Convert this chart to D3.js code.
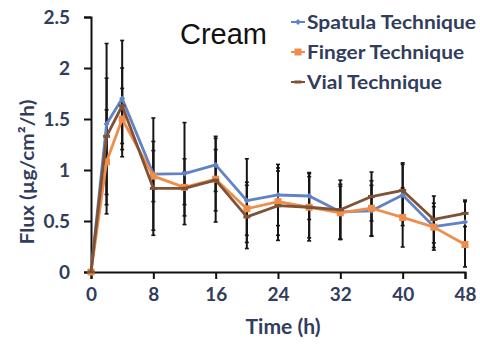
<!DOCTYPE html>
<html>
<head>
<meta charset="utf-8">
<script src="https://cdn.jsdelivr.net/npm/d3@7"></script>
<style>
  body { margin: 0; background: #fff; }
  svg { display: block; }
  text { font-family: Lato, "Open Sans", sans-serif; }
</style>
</head>
<body>
<div></div>
<script>
var width = 480;
var height = 345;

// time points (h)
var times = [0, 2, 4, 8, 12, 16, 20, 24, 28, 32, 36, 40, 44, 48];
var xTicks = [0, 8, 16, 24, 32, 40, 48];
var yTicks = [0, 0.5, 1, 1.5, 2, 2.5];

var seriesNames = ["Spatula Technique", "Finger Technique", "Vial Technique"];

var spatula    = [0, 1.45, 1.70, 0.96, 0.965, 1.05, 0.70, 0.755, 0.745, 0.59, 0.60, 0.755, 0.445, 0.49];
var spatulaErr = [0, 0.79, 0.57, 0.55, 0.50, 0.26, 0.41, 0.30, 0.23, 0.27, 0.25, 0.30, 0.23, 0.20];
var finger     = [0, 1.08, 1.50, 0.94, 0.83, 0.91, 0.62, 0.69, 0.635, 0.58, 0.625, 0.535, 0.44, 0.27];
var fingerErr  = [0, 0.51, 0.30, 0.25, 0.28, 0.42, 0.26, 0.33, 0.30, 0.26, 0.27, 0.29, 0.20, 0.22];
var vial       = [0, 1.33, 1.63, 0.82, 0.82, 0.90, 0.54, 0.65, 0.635, 0.61, 0.74, 0.80, 0.515, 0.575];
var vialErr    = [0, 0.57, 0.37, 0.46, 0.16, 0.30, 0.31, 0.34, 0.33, 0.29, 0.24, 0.27, 0.23, 0.13];

var colors = ["#6282c6", "#ee8e4c", "#7f5236"];
var markers = ["diamond", "square", "dash"];

var series = [spatula, finger, vial].map((vals, i) => ({
	name: seriesNames[i],
	color: colors[i],
	marker: markers[i],
	points: times.map((t, j) => ({
		t: t,
		v: vals[j],
		e: [spatulaErr, fingerErr, vialErr][i][j]
	}))
}));

var svg = d3.select("div")
	.append("svg")
	.attr("width", width)
	.attr("height", height);

var x = d3.scaleLinear().domain([0, 48]).range([91, 465]);
var y = d3.scaleLinear().domain([0, 2.5]).range([272, 17]);

var navy = "#313d5d";

// axes
var xAxis = svg.append("g")
	.attr("transform", "translate(0," + y(0) + ")")
	.call(d3.axisBottom(x).tickValues(xTicks).tickSize(7).tickPadding(9));

var yAxis = svg.append("g")
	.attr("transform", "translate(" + x(0) + ",0)")
	.call(d3.axisLeft(y).tickValues(yTicks).tickSize(7).tickPadding(14).tickFormat(d3.format("")));

[xAxis, yAxis].forEach(ax => {
	ax.select(".domain").attr("stroke", "#111").attr("stroke-width", 2);
	ax.selectAll(".tick line").attr("stroke", "#111").attr("stroke-width", 2);
	ax.selectAll(".tick text")
		.attr("fill", navy)
		.attr("font-size", 19)
		.attr("font-weight", 700)
		.attr("font-family", "Lato, sans-serif");
});
yAxis.selectAll(".tick text").attr("dy", "0.36em");

// error bars
var errG = svg.append("g");
series.forEach(s => {
	var pts = s.points.filter(p => p.e > 0);
	errG.selectAll(null)
		.data(pts)
		.enter()
		.append("line")
		.attr("x1", p => x(p.t))
		.attr("x2", p => x(p.t))
		.attr("y1", p => y(p.v + p.e))
		.attr("y2", p => y(Math.max(0, p.v - p.e)))
		.attr("stroke", "#151515")
		.attr("stroke-width", 2);
	["top", "bottom"].forEach(side => {
		errG.selectAll(null)
			.data(pts)
			.enter()
			.append("line")
			.attr("x1", p => x(p.t) - 2)
			.attr("x2", p => x(p.t) + 2)
			.attr("y1", p => y(side == "top" ? p.v + p.e : Math.max(0, p.v - p.e)))
			.attr("y2", p => y(side == "top" ? p.v + p.e : Math.max(0, p.v - p.e)))
			.attr("stroke", "#151515")
			.attr("stroke-width", 1.6);
	});
});

var line = d3.line().x(p => x(p.t)).y(p => y(p.v));

var drawMarker = (g, type, color) => {
	if (type == "diamond") {
		g.append("path").attr("d", "M0,-3L3,0L0,3L-3,0Z").attr("fill", color);
	} else if (type == "square") {
		g.append("rect").attr("x", -3.5).attr("y", -3.5).attr("width", 7).attr("height", 7).attr("fill", color);
	} else {
		g.append("rect").attr("x", -3.5).attr("y", -1.5).attr("width", 7).attr("height", 3).attr("fill", color);
	}
};

series.forEach(s => {
	svg.append("path")
		.datum(s.points)
		.attr("d", line)
		.attr("fill", "none")
		.attr("stroke", s.color)
		.attr("stroke-width", 2.8)
		.attr("stroke-linejoin", "round");

	svg.append("g")
		.selectAll("g")
		.data(s.points)
		.enter()
		.append("g")
		.attr("transform", p => "translate(" + x(p.t) + "," + y(p.v) + ")")
		.each(function () { drawMarker(d3.select(this), s.marker, s.color); });
});

// legend
var legendWidths = [169, 157, 135];

var legend = svg.append("g")
	.selectAll("g")
	.data(series)
	.enter()
	.append("g")
	.attr("transform", (s, i) => "translate(291," + (22 + i * 30) + ")");

legend.append("line")
	.attr("x1", 0).attr("x2", 14)
	.attr("stroke", s => s.color)
	.attr("stroke-width", 2);

legend.each(function (s) {
	var g = d3.select(this).append("g").attr("transform", "translate(7,0)");
	drawMarker(g, s.marker, s.color);
});

legend.append("text")
	.attr("x", 16)
	.attr("dy", "0.36em")
	.attr("fill", navy)
	.attr("font-size", 18.5)
	.attr("font-weight", 700)
	.attr("textLength", (s, i) => legendWidths[i])
	.attr("lengthAdjust", "spacingAndGlyphs")
	.text(s => s.name);

// title
svg.append("text")
	.attr("x", 180)
	.attr("y", 44)
	.attr("font-size", 29)
	.attr("fill", "#111")
	.style("font-family", "'Liberation Sans', Arial, sans-serif")
	.text("Cream");

// axis titles
svg.append("text")
	.attr("transform", "translate(34,172) rotate(-90)")
	.attr("text-anchor", "middle")
	.attr("fill", navy)
	.attr("font-size", 19)
	.attr("font-weight", 700)
	.attr("textLength", 145)
	.attr("lengthAdjust", "spacingAndGlyphs")
	.text("Flux (µg/cm²/h)");

svg.append("text")
	.attr("x", 283)
	.attr("y", 334)
	.attr("text-anchor", "middle")
	.attr("fill", navy)
	.attr("font-size", 20)
	.attr("font-weight", 700)
	.attr("textLength", 75)
	.attr("lengthAdjust", "spacingAndGlyphs")
	.text("Time (h)");
</script>
</body>
</html>
